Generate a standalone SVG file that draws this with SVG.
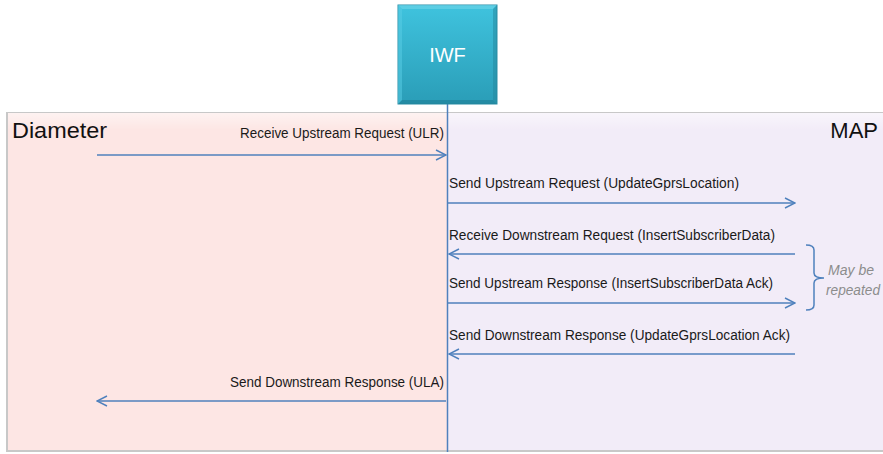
<svg xmlns="http://www.w3.org/2000/svg" width="883" height="454" viewBox="0 0 883 454">
  <defs>
    <linearGradient id="iwfFill" x1="0" y1="0" x2="0" y2="1">
      <stop offset="0" stop-color="#3fc3de"/>
      <stop offset="1" stop-color="#2a9db7"/>
    </linearGradient>
    <linearGradient id="panelShade" x1="0" y1="0" x2="0" y2="1">
      <stop offset="0" stop-color="#ffffff" stop-opacity="0.5"/>
      <stop offset="0.05" stop-color="#ffffff" stop-opacity="0"/>
    </linearGradient>
    <marker id="open" viewBox="0 0 12 12" refX="11" refY="6" markerWidth="12" markerHeight="12" markerUnits="userSpaceOnUse" orient="auto">
      <path d="M1 1 L11 6 L1 11" fill="none" stroke="#4f81bd" stroke-width="1.4"/>
    </marker>
  </defs>
  <style>
    .msg { fill: none; stroke: #4f81bd; stroke-width: 1.5; marker-end: url(#open); }
    .lbl { font-family: "Liberation Sans", Arial, sans-serif; font-size: 14px; fill: #1a1a1a; }
    .title { font-family: "Liberation Sans", Arial, sans-serif; font-size: 22px; fill: #111111; }
    .note { font-family: "Liberation Sans", Arial, sans-serif; font-size: 14px; font-style: italic; fill: #8c8c8c; }
  </style>
  <rect width="883" height="454" fill="#ffffff"/>

  <!-- Diameter side -->
  <g id="diameter">
    <rect x="6" y="112" width="442" height="340" fill="#c8c8c8"/>
    <rect x="8" y="113" width="440" height="337" fill="#fde6e4"/>
    <rect x="8" y="113" width="440" height="337" fill="url(#panelShade)"/>
    <text class="title" x="12" y="138" textLength="95" lengthAdjust="spacingAndGlyphs">Diameter</text>
  </g>

  <!-- MAP side -->
  <g id="map">
    <rect x="448" y="112" width="435" height="340" fill="#c8c8c8"/>
    <rect x="448" y="113" width="435" height="337" fill="#f2ecf8"/>
    <rect x="448" y="113" width="435" height="337" fill="url(#panelShade)"/>
    <text class="title" x="878" y="138" text-anchor="end">MAP</text>
  </g>

  <!-- IWF element with its lifeline -->
  <g id="iwf">
    <line x1="447.5" y1="104" x2="447.5" y2="452" stroke="#4f81bd" stroke-width="1.5"/>
    <rect x="398" y="5" width="99" height="99" fill="url(#iwfFill)" stroke="#2b8ea6" stroke-width="1"/>
    <path d="M398 5 L497 5 L493 9 L402 9 Z" fill="#6fd6ea" opacity="0.6"/>
    <path d="M398 104 L497 104 L493 100 L402 100 Z" fill="#1f7f96" opacity="0.6"/>
    <path d="M398 5 L402 9 L402 100 L398 104 Z" fill="#5acde6" opacity="0.5"/>
    <path d="M497 5 L493 9 L493 100 L497 104 Z" fill="#23859c" opacity="0.5"/>
    <text x="447.5" y="62" text-anchor="middle" font-family="Liberation Sans, Arial, sans-serif" font-size="20" fill="#ffffff">IWF</text>
  </g>

  <!-- Messages -->
  <g id="connectors">
    <line class="msg" x1="97" y1="155" x2="446" y2="155"/>
    <line class="msg" x1="448" y1="203" x2="795" y2="203"/>
    <line class="msg" x1="795" y1="254" x2="449" y2="254"/>
    <line class="msg" x1="448" y1="303" x2="795" y2="303"/>
    <line class="msg" x1="795" y1="354" x2="449" y2="354"/>
    <line class="msg" x1="446" y1="401" x2="97" y2="401"/>
    <!-- repetition brace -->
    <path d="M806 245 Q814 245 814 250 L814 273 Q814 278 824 278 Q814 278 814 283 L814 305 Q814 310 806 310" fill="none" stroke="#4f81bd" stroke-width="1.5"/>
  </g>

  <g id="labels">
    <text class="lbl" x="240" y="138" textLength="204" lengthAdjust="spacingAndGlyphs">Receive Upstream Request (ULR)</text>
    <text class="lbl" x="449" y="188" textLength="290" lengthAdjust="spacingAndGlyphs">Send Upstream Request (UpdateGprsLocation)</text>
    <text class="lbl" x="449" y="240" textLength="326" lengthAdjust="spacingAndGlyphs">Receive Downstream Request (InsertSubscriberData)</text>
    <text class="lbl" x="449" y="288" textLength="324" lengthAdjust="spacingAndGlyphs">Send Upstream Response (InsertSubscriberData Ack)</text>
    <text class="lbl" x="449" y="340" textLength="341" lengthAdjust="spacingAndGlyphs">Send Downstream Response (UpdateGprsLocation Ack)</text>
    <text class="lbl" x="230" y="387" textLength="214" lengthAdjust="spacingAndGlyphs">Send Downstream Response (ULA)</text>
    <text class="note" x="851" y="275" text-anchor="middle" textLength="46" lengthAdjust="spacingAndGlyphs">May be</text>
    <text class="note" x="853" y="295" text-anchor="middle" textLength="54" lengthAdjust="spacingAndGlyphs">repeated</text>
  </g>
</svg>
